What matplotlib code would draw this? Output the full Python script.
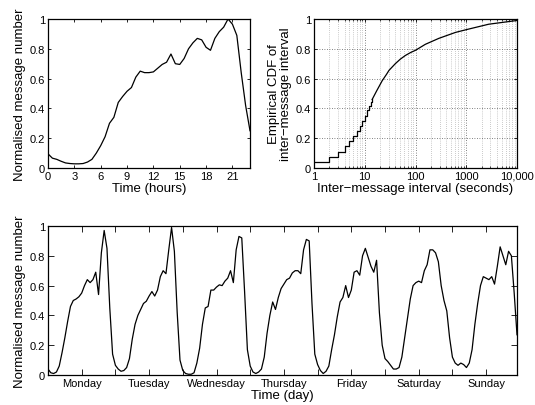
import matplotlib
matplotlib.use('Agg')
import matplotlib.pyplot as plt
from matplotlib.ticker import FixedLocator, LogLocator, NullFormatter

plt.rcParams['font.family'] = ['Liberation Sans', 'DejaVu Sans']
plt.rcParams['font.size'] = 8

# --- average day, half-hourly ---
day_hours = [i * 0.5 for i in range(47)]
day_norm = [0.095, 0.066, 0.058, 0.045, 0.034, 0.030, 0.028, 0.028, 0.030, 0.040,
            0.058, 0.100, 0.150, 0.210, 0.300, 0.340, 0.440, 0.480, 0.515, 0.540,
            0.610, 0.650, 0.640, 0.640, 0.645, 0.670, 0.695, 0.710, 0.765, 0.700,
            0.695, 0.735, 0.800, 0.840, 0.870, 0.860, 0.810, 0.790, 0.870, 0.915,
            0.945, 1.000, 0.965, 0.890, 0.640, 0.420, 0.250]

# --- inter-message interval CDF ---
step_x = [1, 2, 3, 4, 5, 6, 7, 8, 9, 10, 11, 12, 13, 14]
step_F = [0.043, 0.072, 0.110, 0.145, 0.180, 0.217, 0.250, 0.284, 0.318, 0.350,
          0.390, 0.415, 0.440, 0.460]
curve_x = [14, 17, 22, 27, 30, 40, 50, 63, 80, 100, 156, 288, 614, 1045, 2770, 10000]
curve_F = [0.460, 0.515, 0.585, 0.630, 0.655, 0.700, 0.730, 0.755, 0.775, 0.790,
           0.830, 0.870, 0.910, 0.930, 0.965, 0.990]

# --- week, hourly ---
monday = [0.04, 0.015, 0.01, 0.02, 0.06, 0.15, 0.25, 0.36, 0.46, 0.50, 0.51, 0.525,
          0.55, 0.60, 0.64, 0.62, 0.64, 0.69, 0.54, 0.82, 0.97, 0.85, 0.45, 0.14]
tuesday = [0.065, 0.04, 0.025, 0.03, 0.05, 0.11, 0.24, 0.34, 0.40, 0.44, 0.48, 0.495,
           0.53, 0.56, 0.53, 0.57, 0.66, 0.70, 0.68, 0.84, 0.99, 0.83, 0.42, 0.10]
wednesday = [0.03, 0.01, 0.005, 0.005, 0.015, 0.08, 0.18, 0.34, 0.45, 0.46, 0.57, 0.57,
             0.59, 0.605, 0.60, 0.63, 0.65, 0.70, 0.62, 0.84, 0.93, 0.92, 0.56, 0.17]
thursday = [0.06, 0.02, 0.01, 0.02, 0.04, 0.12, 0.28, 0.40, 0.49, 0.44, 0.52, 0.58,
            0.61, 0.64, 0.65, 0.685, 0.70, 0.70, 0.68, 0.84, 0.91, 0.90, 0.48, 0.14]
friday = [0.07, 0.03, 0.01, 0.025, 0.06, 0.17, 0.27, 0.39, 0.49, 0.52, 0.60, 0.52,
          0.57, 0.69, 0.70, 0.67, 0.80, 0.85, 0.79, 0.73, 0.69, 0.77, 0.42, 0.20]
saturday = [0.11, 0.09, 0.065, 0.04, 0.04, 0.05, 0.12, 0.25, 0.38, 0.51, 0.60, 0.62,
            0.63, 0.62, 0.70, 0.74, 0.84, 0.84, 0.82, 0.76, 0.60, 0.50, 0.43, 0.25]
sunday = [0.12, 0.08, 0.065, 0.08, 0.07, 0.05, 0.08, 0.17, 0.34, 0.48, 0.60, 0.66,
          0.65, 0.64, 0.66, 0.61, 0.73, 0.86, 0.80, 0.74, 0.83, 0.80, 0.55, 0.27]
week = monday + tuesday + wednesday + thursday + friday + saturday + sunday
week_hours = list(range(len(week)))
day_names = ['Monday', 'Tuesday', 'Wednesday', 'Thursday', 'Friday', 'Saturday', 'Sunday']

y_ticks = [0, 0.2, 0.4, 0.6, 0.8, 1]
y_labels = ['0', '0.2', '0.4', '0.6', '0.8', '1']
label_size = 9.5


def matlab_style(ax, ticklen):
    ax.tick_params(which='major', direction='in', top=True, right=True,
                   length=ticklen, width=0.6, pad=2, labelsize=8)
    ax.tick_params(which='minor', direction='in', top=True, right=True,
                   length=ticklen * 0.55, width=0.5)
    for s in ax.spines.values():
        s.set_linewidth(0.9)
    ax.set_ylim(0, 1)
    ax.set_yticks(y_ticks)
    ax.set_yticklabels(y_labels)


W, H = 535.0, 406.0
fig = plt.figure(figsize=(W / 100, H / 100), dpi=100)

# top left
ax1 = fig.add_axes([48 / W, 1 - 169 / H, 202 / W, 149 / H])
ax1.plot(day_hours, day_norm, color='k', lw=0.9)
ax1.set_xlim(0, 23)
ax1.set_xticks(range(0, 22, 3))
matlab_style(ax1, 2.5)
ax1.set_xlabel('Time (hours)', fontsize=label_size, labelpad=1)
ax1.set_ylabel('Normalised message number', fontsize=label_size, labelpad=3)

# top right
ax2 = fig.add_axes([314 / W, 1 - 169 / H, 203 / W, 149 / H])
ax2.set_xscale('log')
ax2.step(step_x, step_F, where='post', color='k', lw=0.9)
ax2.plot(curve_x, curve_F, color='k', lw=0.9)
ax2.set_xlim(1, 10000)
ax2.xaxis.set_major_locator(FixedLocator([1, 10, 100, 1000, 10000]))
ax2.set_xticklabels(['1', '10', '100', '1000', '10,000'])
ax2.xaxis.set_minor_locator(LogLocator(base=10, subs=range(2, 10)))
ax2.xaxis.set_minor_formatter(NullFormatter())
matlab_style(ax2, 2.5)
ax2.set_axisbelow(True)
ax2.grid(which='major', color='0.35', ls=(0, (1, 2)), lw=0.6)
ax2.grid(which='minor', axis='x', color='0.6', ls=(0, (1, 2)), lw=0.5)
ax2.set_xlabel('Inter\u2212message interval (seconds)', fontsize=label_size, labelpad=1)
ax2.set_ylabel('Empirical CDF of\ninter\u2212message interval', fontsize=label_size,
               labelpad=3, linespacing=1.0)

# bottom
ax3 = fig.add_axes([48 / W, 1 - 376 / H, 469 / W, 149 / H])
ax3.plot(week_hours, week, color='k', lw=0.9)
ax3.set_xlim(0, 167)
ax3.set_xticks(range(12, 167, 12))
ax3.set_xticklabels([day_names[i // 2] if i % 2 == 0 else '' for i in range(13)])
matlab_style(ax3, 4)
ax3.set_xlabel('Time (day)', fontsize=label_size, labelpad=1)
ax3.set_ylabel('Normalised message number', fontsize=label_size, labelpad=3)

fig.savefig('out.png', dpi=100)
